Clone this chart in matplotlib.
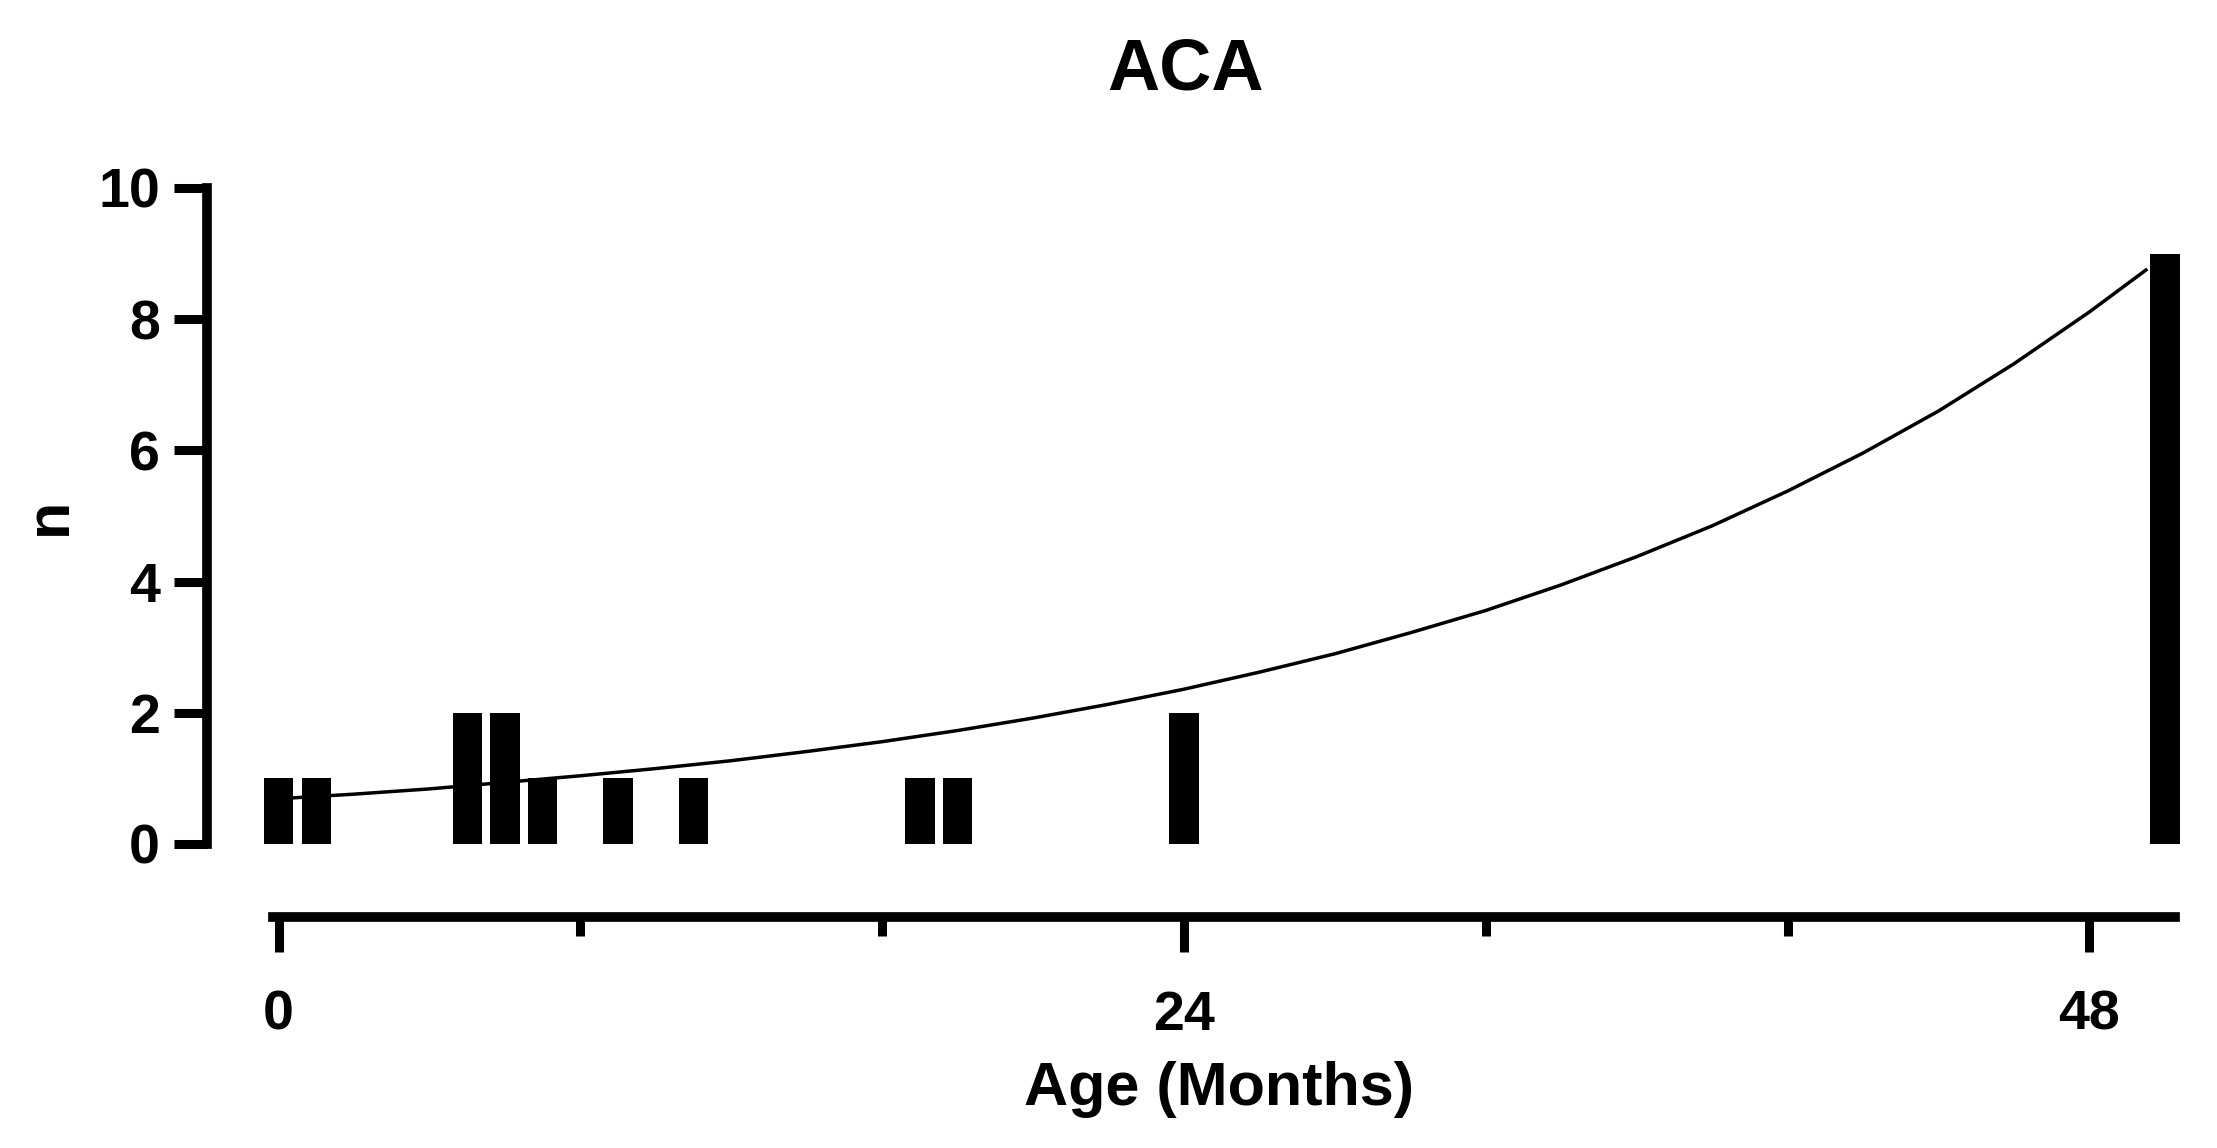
import matplotlib
matplotlib.use("Agg")
import matplotlib.pyplot as plt
from matplotlib.ticker import FixedLocator

# ---- data ----
age_months = [0, 1, 5, 6, 7, 9, 11, 17, 18, 24, 50]
counts     = [1, 1, 2, 2, 1, 1, 1, 1, 1, 2, 9]

# fitted curve, values
curve_x = [0, 2, 4, 6, 8, 10, 12, 14, 16, 18, 20, 22, 24, 26, 28, 30,
           32, 34, 36, 38, 40, 42, 44, 46, 48, 49.5]
curve_y = [0.69, 0.76, 0.84, 0.94, 1.04, 1.15, 1.27, 1.41, 1.56, 1.73, 1.92,
           2.13, 2.36, 2.62, 2.90, 3.22, 3.56, 3.95, 4.38, 4.85, 5.38, 5.96,
           6.60, 7.32, 8.11, 8.75]

x_major = [0, 24, 48]
x_minor = [8, 16, 32, 40]
y_ticks = [0, 2, 4, 6, 8, 10]

title = "ACA"
xlabel = "Age (Months)"
ylabel = "n"

# ---- figure ----
W, H = 2217, 1148
DPI = 100
plt.rcParams['font.family'] = ['Liberation Sans', 'DejaVu Sans']
plt.rcParams['font.weight'] = 'bold'

fig = plt.figure(figsize=(W / DPI, H / DPI), dpi=DPI)
fig.patch.set_facecolor('white')

px = lambda p: p * 72.0 / DPI  # pixels -> points

ax_left, ax_right = 273, 2175
ax_top, ax_bottom = 188, 844
ax = fig.add_axes([ax_left / W, 1 - ax_bottom / H,
                   (ax_right - ax_left) / W, (ax_bottom - ax_top) / H])

ax.bar(age_months, counts, width=0.78, color='black', edgecolor='none',
       align='center', clip_on=False, zorder=3)
ax.plot(curve_x, curve_y, color='black', lw=2.5, zorder=2, clip_on=False)

ax.set_xlim(-0.15, 50.27)
ax.set_ylim(0, 10)

for s in ['top', 'right']:
    ax.spines[s].set_visible(False)
ax.spines['left'].set_linewidth(7)
ax.spines['bottom'].set_linewidth(7)
ax.spines['left'].set_position(('outward', px(ax_left - 207)))
ax.spines['bottom'].set_position(('outward', px(917 - ax_bottom)))

ax.xaxis.set_major_locator(FixedLocator(x_major))
ax.xaxis.set_minor_locator(FixedLocator(x_minor))
ax.yaxis.set_major_locator(FixedLocator(y_ticks))

ax.tick_params(axis='y', which='major', direction='out', length=px(33),
               width=6.5, labelsize=40, pad=px(14))
ax.tick_params(axis='x', which='major', direction='out', length=px(35),
               width=6.5, labelsize=40, pad=px(38))
ax.tick_params(axis='x', which='minor', direction='out', length=px(19),
               width=6.5)
for lab in ax.get_xticklabels() + ax.get_yticklabels():
    lab.set_fontweight('bold')

fig.text(1185 / W, 1 - 70 / H, title, ha='center', va='center',
         fontsize=52, fontweight='bold')
fig.text(1219 / W, 1 - 1089 / H, xlabel, ha='center', va='center',
         fontsize=44, fontweight='bold')
fig.text(50 / W, 1 - 516 / H, ylabel, ha='center', va='center',
         fontsize=44, fontweight='bold', rotation=90)

fig.savefig('out.png', dpi=DPI, facecolor='white')
